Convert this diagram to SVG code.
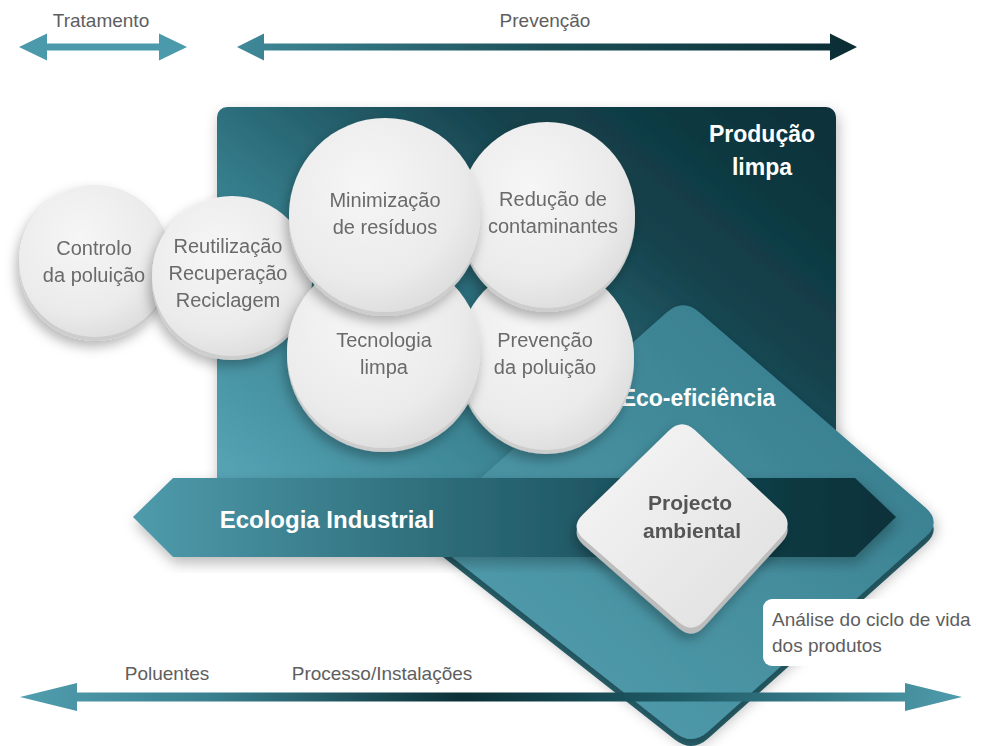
<svg xmlns="http://www.w3.org/2000/svg" width="985" height="746" viewBox="0 0 985 746">
<defs>
<style>
.lbl{font-family:"Liberation Sans",Arial,sans-serif;font-size:19px;fill:#5e5e5e}
.ct{font-family:"Liberation Sans",Arial,sans-serif;font-size:20px;fill:#6a6a6a;text-anchor:middle}
.wb{font-family:"Liberation Sans",Arial,sans-serif;font-weight:bold;fill:#ffffff;text-anchor:middle}
.disc{fill:url(#discG)}
.rim{fill:#cdcdcd}
</style>
<linearGradient id="boxG" x1="0" y1="0.9" x2="1" y2="0.1">
<stop offset="0" stop-color="#55a3b4"/>
<stop offset="0.35" stop-color="#367e8d"/>
<stop offset="0.7" stop-color="#15434d"/>
<stop offset="1" stop-color="#0b323a"/>
</linearGradient>
<linearGradient id="diaG" x1="0" y1="1" x2="1" y2="0">
<stop offset="0" stop-color="#55a1b2"/>
<stop offset="0.5" stop-color="#458e9e"/>
<stop offset="1" stop-color="#317686"/>
</linearGradient>
<linearGradient id="bandG" x1="133" y1="0" x2="896" y2="0" gradientUnits="userSpaceOnUse">
<stop offset="0" stop-color="#4f9bac"/>
<stop offset="0.4" stop-color="#2e6d7a"/>
<stop offset="0.65" stop-color="#1c5360"/>
<stop offset="0.85" stop-color="#0c3a43"/>
<stop offset="1" stop-color="#0a3139"/>
</linearGradient>
<linearGradient id="prevG" x1="237" y1="0" x2="857" y2="0" gradientUnits="userSpaceOnUse">
<stop offset="0" stop-color="#3f8999"/>
<stop offset="0.5" stop-color="#1b4f58"/>
<stop offset="1" stop-color="#0a2d33"/>
</linearGradient>
<linearGradient id="botG" x1="20" y1="0" x2="962" y2="0" gradientUnits="userSpaceOnUse">
<stop offset="0" stop-color="#509eaf"/>
<stop offset="0.2" stop-color="#3a8090"/>
<stop offset="0.47" stop-color="#0b3037"/>
<stop offset="0.7" stop-color="#1f5b67"/>
<stop offset="1" stop-color="#4f9cad"/>
</linearGradient>
<radialGradient id="discG" cx="0.4" cy="0.35" r="0.7">
<stop offset="0" stop-color="#f6f6f6"/>
<stop offset="0.7" stop-color="#ebebeb"/>
<stop offset="1" stop-color="#dcdcdc"/>
</radialGradient>
<linearGradient id="pjG" x1="0" y1="0" x2="1" y2="1">
<stop offset="0" stop-color="#f7f7f7"/>
<stop offset="1" stop-color="#dedede"/>
</linearGradient>
<filter id="sh" x="-20%" y="-20%" width="140%" height="150%">
<feDropShadow dx="-3" dy="6" stdDeviation="6" flood-color="#000" flood-opacity="0.28"/>
</filter>
<filter id="sh2" x="-20%" y="-20%" width="140%" height="140%">
<feDropShadow dx="2" dy="6" stdDeviation="7" flood-color="#000" flood-opacity="0.28"/>
</filter>
</defs>
<rect width="985" height="746" fill="#ffffff"/>

<g id="producao-limpa">
<rect x="217" y="107" width="619" height="400" rx="10" fill="url(#boxG)" filter="url(#sh2)"/>
<text class="wb" x="762" y="142" font-size="23">Produção</text>
<text class="wb" x="762" y="175" font-size="23">limpa</text>
</g>

<g id="eco-eficiencia">
<path d="M699.6,319.4 L925.4,514.6 Q942,529 925.6,543.7 L708.4,738.3 Q692,753 674.7,739.4 L437.3,552.6 Q420,539 436.4,524.4 L666.6,319.6 Q683,305 699.6,319.4 Z" fill="#2a6672"/>
<path d="M699.6,312.4 L925.4,507.6 Q942,522 925.6,536.7 L708.4,731.3 Q692,746 674.7,732.4 L437.3,545.6 Q420,532 436.4,517.4 L666.6,312.6 Q683,298 699.6,312.4 Z" fill="url(#diaG)" filter="url(#sh2)"/>
<text class="wb" x="698" y="406" font-size="23">Eco-eficiência</text>
</g>

<g id="controlo" filter="url(#sh)">
<circle class="rim" cx="95" cy="265" r="76"/>
<circle class="disc" cx="95" cy="261" r="76"/>
<text class="ct" x="94" y="255">Controlo</text>
<text class="ct" x="94" y="282">da poluição</text>
</g>
<g id="reutilizacao" filter="url(#sh)">
<circle class="rim" cx="232" cy="280" r="80"/>
<circle class="disc" cx="232" cy="276" r="80"/>
<text class="ct" x="228" y="253">Reutilização</text>
<text class="ct" x="228" y="280">Recuperação</text>
<text class="ct" x="228" y="307">Reciclagem</text>
</g>
<g id="prevencao-poluicao" filter="url(#sh)">
<ellipse class="rim" cx="546" cy="361" rx="88" ry="93"/>
<ellipse class="disc" cx="546" cy="357" rx="88" ry="93"/>
<text class="ct" x="545" y="347">Prevenção</text>
<text class="ct" x="545" y="374">da poluição</text>
</g>
<g id="reducao" filter="url(#sh)">
<ellipse class="rim" cx="547" cy="219" rx="88" ry="93"/>
<ellipse class="disc" cx="547" cy="215" rx="88" ry="93"/>
<text class="ct" x="553" y="206">Redução de</text>
<text class="ct" x="553" y="233">contaminantes</text>
</g>
<g id="tecnologia" filter="url(#sh)">
<ellipse class="rim" cx="384" cy="356" rx="97" ry="96"/>
<ellipse class="disc" cx="384" cy="352" rx="97" ry="96"/>
<text class="ct" x="384" y="347">Tecnologia</text>
<text class="ct" x="384" y="374">limpa</text>
</g>
<g id="minimizacao" filter="url(#sh)">
<ellipse class="rim" cx="385" cy="219" rx="96" ry="97"/>
<ellipse class="disc" cx="385" cy="215" rx="96" ry="97"/>
<text class="ct" x="385" y="207">Minimização</text>
<text class="ct" x="385" y="234">de resíduos</text>
</g>

<g id="ecologia-industrial">
<polygon points="133,517 173,478 855,478 896,517 855,557 173,557" fill="url(#bandG)" filter="url(#sh2)"/>
<text class="wb" x="327" y="528" font-size="24">Ecologia Industrial</text>
</g>

<g id="projecto-ambiental" filter="url(#sh)">
<path d="M695.1,436.3 L780.9,516.7 Q794,529 781.8,542.3 L704.2,626.7 Q692,640 678.5,628.1 L583.5,544.9 Q570,533 582.9,520.4 L669.1,436.6 Q682,424 695.1,436.3 Z" fill="#bdbdbd"/>
<path d="M695.1,430.3 L780.9,510.7 Q794,523 781.8,536.3 L704.2,620.7 Q692,634 678.5,622.1 L583.5,538.9 Q570,527 582.9,514.4 L669.1,430.6 Q682,418 695.1,430.3 Z" fill="url(#pjG)"/>
<text x="690" y="510" font-family="Liberation Sans,Arial,sans-serif" font-weight="bold" font-size="21" fill="#555" text-anchor="middle">Projecto</text>
<text x="692" y="538" font-family="Liberation Sans,Arial,sans-serif" font-weight="bold" font-size="21" fill="#555" text-anchor="middle">ambiental</text>
</g>

<g id="analise-ciclo-vida">
<rect x="763" y="599" width="240" height="67" rx="9" fill="#ffffff"/>
<text class="lbl" x="772" y="626">Análise do ciclo de vida</text>
<text class="lbl" x="772" y="652">dos produtos</text>
</g>

<g id="connectors">
<polygon points="19,47 47,33.5 47,43.5 159,43.5 159,33.5 187,47 159,60.5 159,50.5 47,50.5 47,60.5" fill="#4a9aab"/>
<polygon points="237,47 264,33.5 264,43.5 830,43.5 830,33.5 857,47 830,60.5 830,50.5 264,50.5 264,60.5" fill="url(#prevG)"/>
<polygon points="20,697 77,683 77,692.5 905,692.5 905,683 962,697 905,711 905,701.5 77,701.5 77,711" fill="url(#botG)"/>
</g>

<g id="labels">
<text class="lbl" x="101" y="27" text-anchor="middle">Tratamento</text>
<text class="lbl" x="545" y="27" text-anchor="middle">Prevenção</text>
<text class="lbl" x="167" y="680" text-anchor="middle">Poluentes</text>
<text class="lbl" x="382" y="680" text-anchor="middle">Processo/Instalações</text>
</g>
</svg>
